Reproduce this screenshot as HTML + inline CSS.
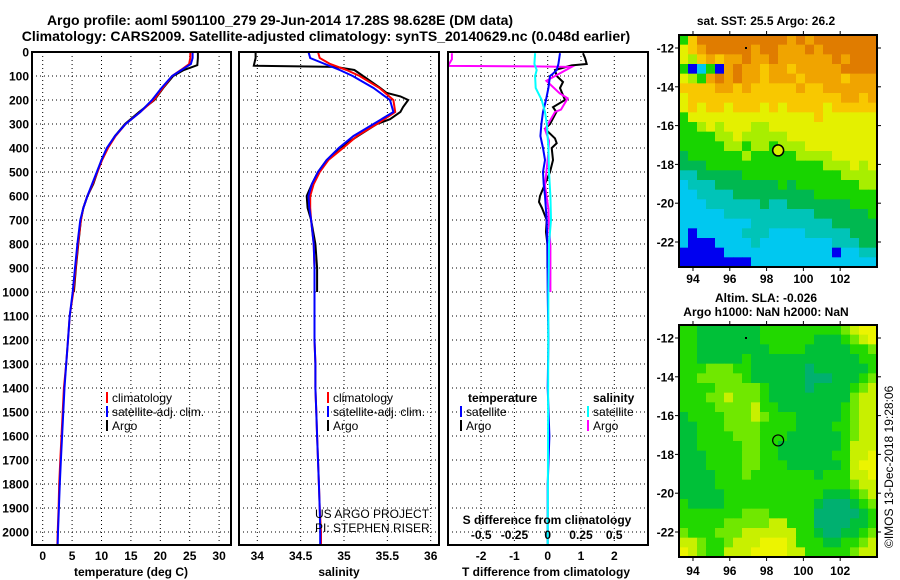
<!DOCTYPE html>
<html><head><meta charset="utf-8"><style>
html,body{margin:0;padding:0;background:#fff;}
svg{display:block;font-family:"Liberation Sans",Arial,sans-serif;}
.b{font-weight:bold;font-size:12px;}
.t{font-weight:bold;font-size:14px;}
.l{font-size:12px;}
</style></head><body>
<svg id="fig" width="900" height="580" viewBox="0 0 900 580" xmlns="http://www.w3.org/2000/svg">
<defs>
<clipPath id="c1"><rect x="32" y="52" width="199" height="493"/></clipPath>
<clipPath id="c2"><rect x="239" y="52" width="200" height="493"/></clipPath>
<clipPath id="c3"><rect x="448" y="52" width="200" height="493"/></clipPath>
</defs>
<text class="t" x="280" y="25" text-anchor="middle">Argo profile: aoml 5901100_279 29-Jun-2014 17.28S 98.628E (DM data)</text>
<text class="t" x="326" y="41" text-anchor="middle">Climatology: CARS2009. Satellite-adjusted climatology: synTS_20140629.nc (0.048d earlier)</text>
<g id="grids"></g>
<g id="series"></g>
<g id="frames"></g>
<g id="maps"></g>
<g id="labels"></g>
</svg>
<script>
// ---------- profile data ----------
const climDepth = [0,25,50,75,100,150,200,250,300,350,400,450,500,550,600,650,700,800,900,1000,1100,1200,1300,1400,1500,1600,1700,1800,1900,2000,2050];
const tempClim = [25.1,25.1,24.9,23.5,22.0,20.4,18.9,16.6,14.1,12.4,11.1,10.1,9.3,8.5,7.6,6.9,6.5,6.0,5.6,5.2,4.6,4.3,4.0,3.6,3.4,3.2,3.0,2.8,2.7,2.55,2.5];
const tempSat  = [25.5,25.5,25.2,23.6,22.0,20.2,18.6,16.6,14.1,12.3,10.9,10.0,9.2,8.4,7.6,6.9,6.4,5.9,5.5,5.1,4.6,4.3,4.0,3.7,3.5,3.3,3.1,2.9,2.75,2.6,2.55];
const argoDepth = [0,25,55,75,100,150,200,250,300,350,400,450,500,550,600,650,700,800,900,1000];
const tempArgo  = [26.4,26.4,26.3,24.0,22.2,20.5,19.0,16.4,14.0,12.3,11.0,10.0,9.3,8.6,7.6,6.9,6.5,6.05,5.65,5.3];
const salClim = [34.70,34.72,34.84,35.03,35.18,35.41,35.57,35.59,35.38,35.15,34.99,34.82,34.72,34.65,34.61,34.61,34.62,34.65,34.66,34.66,34.66,34.66,34.67,34.67,34.68,34.69,34.70,34.71,34.72,34.735,34.735];
const salSat  = [34.59,34.61,34.78,34.95,35.10,35.34,35.53,35.57,35.34,35.11,34.94,34.80,34.70,34.63,34.59,34.60,34.62,34.65,34.66,34.66,34.66,34.66,34.67,34.67,34.68,34.69,34.70,34.71,34.72,34.725,34.725];
const salArgoDepth = [0,25,57,62,75,100,150,170,185,200,230,250,280,300,350,400,450,500,550,600,650,700,800,900,1000];
const salArgo = [33.98,33.98,33.96,34.90,35.12,35.22,35.42,35.49,35.65,35.74,35.68,35.65,35.53,35.38,35.16,34.95,34.80,34.70,34.63,34.57,34.58,34.62,34.67,34.69,34.69];
// difference panel
const dtArgoDepth = [5,25,50,56,75,100,125,150,200,230,250,300,320,360,380,400,450,500,550,600,625,650,700,750,800,850,900];
const dtArgo = [1.06,1.12,1.17,0.72,0.22,0.27,0.46,0.37,0.52,0.16,0.26,0.07,-0.08,0.22,0.27,0.12,0.16,0.07,-0.08,-0.23,-0.26,-0.17,-0.03,-0.05,-0.01,-0.01,-0.01];
const dtSatDepth = [5,50,75,90,100,150,200,250,300,350,400,450,500,550,600,700,800,1000,1200,1400,1600,1800,2000,2050];
const dtSat = [0.37,0.32,0.27,0.16,0.07,0.02,-0.05,-0.14,-0.19,-0.22,-0.14,-0.08,-0.14,-0.12,-0.08,-0.03,-0.01,0.0,0.02,0.0,0.05,0.0,0.0,0.0];
const dsSatDepth = [5,50,75,100,150,200,250,300,400,500,600,700,800,900,1000,1500,2050];
const dsSat = [-0.095,-0.10,-0.083,-0.095,-0.09,-0.045,-0.02,-0.007,0.005,0.01,0.02,0.025,0.01,0.008,0.005,0.003,0.0];
const dsArgoDepth = [5,30,58,60,62,120,172,193,240,250,322,370,418,556,653,722,806,972,1000];
const dsArgo = [-0.72,-0.72,-0.75,-0.1,0.18,-0.01,0.09,0.15,0.10,0.055,-0.02,0.01,0.005,-0.02,0.005,0.01,0.02,0.02,0.02];
// axis ticks
const depthTicks = [0,100,200,300,400,500,600,700,800,900,1000,1100,1200,1300,1400,1500,1600,1700,1800,1900,2000];
const tempTicks = [0,5,10,15,20,25,30];
const salTicks = [34,34.5,35,35.5,36];
const salTickLabels = ["34","34.5","35","35.5","36"];
const dtTicks = [-2,-1,0,1,2];
const dsTicks = [-0.5,-0.25,0,0.25,0.5];
const dsTickLabels = ["-0.5","-0.25","0","0.25","0.5"];
const lonTicks = [94,96,98,100,102];
const latTicks = [-12,-14,-16,-18,-20,-22];
const argoLon = 98.628, argoLat = -17.28;
// map grids (codes -> colours), rows north to south
const sstRows = [
"GYOOOOOOOOOOoOoOOOOOOO","yYoOOOOOoOOoooOoOOOOOO","yLYoYooOooOooooooOoOOO","GBcGBoOooYooYoooooOOOO",
"yLGoOoOooYoooYooooYooo","YYYYooYoYYYYYoYYoooooo","yYYYYYYYYYYYYYYYYYooYo","yYyYYyYYYyYyYYYYyYYYYY",
"GyyyyyyyyyyyyyyYyyyyyy","GGLyLyyyLLyyyyyyyyyyyy","GGGGLLyLLLLLyyyyyyyyyy","GGGGGLLGLLGLLLyyyyyyyy",
"gGGGGGGLGGGGGLLLLyyyyy","gggGGGGGGGGGGGGGLLLyLy","CCgggggGGGGGGGGGGGLLLL","cCCCgggggggGgGGGGGGGLL",
"ccCCCCgggggggggGGGGGGG","cccCCCCCCgCCgggggggGGG","cccccCCCCCCCCCCggggggG","ccccccccCCCCCCCCCggggg",
"cBcccccCCCccccCCCCCggg","cBBBccccCccccccccCCCgg","BBBBBccccccccccccBccCC","BBBBBBBBcccccccccccccc"];
const sstColors = {O:"#e07c00",o:"#f0a400",Y:"#f8c800",y:"#e4f000",L:"#a8ee00",G:"#18d400",g:"#00b850",C:"#00c4b8",c:"#00c8f0",B:"#0000f0"};
const slaRows = [
"GGdddddddGGGGGGGGGlyYY","GGdddddddGGGGGGdddGlyY","GGddddddddGGGGdddddGGl","GGdddddGddddddddddddGG",
"GGGlllGGddddddtddddddG","GGlllllGddddddtttdddGl","GGGGlllllGddddtddddGly","GGGllylllGdddddddddlyy",
"GGGGllllyGGdddddddGlyy","dGGGGlllylGGGdddddGlyy","ddGGGllllGGGGddddGGlyy","ddGGGGlllGGGddddddGlyy",
"ddGGGGGllGGdddddddGyyy","dddGGGGllGGddddddGGyyY","dddGGGGllGGGddddddGyYY","ddddGGGlGGGGGGGdGGGyyY",
"ddddGGGGGGGGGGGGGGGlyy","dddddGGGGGGGGGGGdddGly","GddddGGGGGGGGGGdtttdGl","GGGGGGGlllGGGGGtttttdG",
"GGGGGlllllyyGGGttttddG","lGGGlllyyyyyyGGdttddGl","yylGGlyyyYYYyGGGddGGly","YylGGyyyYYYYyyGGGGGlyy"];
const slaColors = {G:"#22d800",d:"#00c038",t:"#00b070",l:"#70e800",y:"#c8f000",Y:"#ecf400"};

// ---------- scales ----------
const yD = d => 52 + d*0.24;
const xT = t => 42.7 + t*5.88;
const xS = s => 257.3 + (s-34)*86.7;
const xDT = v => 547.7 + v*33.3;
const xDS = v => 547.7 + v*133;
const MAPX0 = 679, MAPW = 198, LON0 = 93.24, LONPX = 18.4;
const xLon = lo => MAPX0 + (lo-LON0)*LONPX;
const yLatTop = la => 48 + (-12-la)*19.4;
const yLatBot = la => 338 + (-12-la)*19.4;

const NS = "http://www.w3.org/2000/svg";
function mk(tag, attrs, parent, txt){
  const e = document.createElementNS(NS, tag);
  for (const k in attrs) e.setAttribute(k, attrs[k]);
  if (txt !== undefined) e.textContent = txt;
  parent.appendChild(e);
  return e;
}
const G = id => document.getElementById(id);
const grids = G("grids"), series = G("series"), frames = G("frames"), maps = G("maps"), labels = G("labels");
const panels = [[32,231],[239,439],[448,648]];
const dot = {stroke:"#000","stroke-width":1,"stroke-dasharray":"1 3"};

panels.forEach((p,pi) => {
  depthTicks.forEach(d => {
    if (d === 0) return;
    const ln = mk("line", Object.assign({x1:p[0],x2:p[1],y1:yD(d),y2:yD(d)}, dot), grids);
    
    
  });
});
function vgrid(vals, fx){
  vals.forEach(v => {
    const ln = mk("line", Object.assign({x1:fx(v),x2:fx(v),y1:52,y2:545}, dot), grids);
    
    
  });
}
vgrid(tempTicks, xT); vgrid(salTicks, xS); vgrid(dtTicks, xDT);

function line(depths, vals, fx, color, clip, name){
  const pts = depths.map((d,i) => fx(vals[i]).toFixed(1)+","+yD(d).toFixed(1)).join(" ");
  const pl = mk("polyline", {points:pts, fill:"none", stroke:color, "stroke-width":2, "clip-path":"url(#"+clip+")"}, series);
  
  
}
line(argoDepth, tempArgo, xT, "#000", "c1", "temp-argo-line");
line(climDepth, tempClim, xT, "#f00", "c1", "temp-climatology-line");
line(climDepth, tempSat, xT, "#00f", "c1", "temp-satellite-line");
line(salArgoDepth, salArgo, xS, "#000", "c2", "salinity-argo-line");
line(climDepth, salClim, xS, "#f00", "c2", "salinity-climatology-line");
line(climDepth, salSat, xS, "#00f", "c2", "salinity-satellite-line");
line(dtArgoDepth, dtArgo, xDT, "#000", "c3", "tdiff-argo-line");
line(dsArgoDepth, dsArgo, xDS, "#f0f", "c3", "sdiff-argo-line");
line(dtSatDepth, dtSat, xDT, "#00f", "c3", "tdiff-satellite-line");
line(dsSatDepth, dsSat, xDS, "#0ff", "c3", "sdiff-satellite-line");

panels.forEach((p,i) => {
  const r = mk("rect", {x:p[0], y:52, width:p[1]-p[0], height:493, fill:"none", stroke:"#000", "stroke-width":2}, frames);
  
  
});

depthTicks.forEach(d => {
  const t = mk("text", {x:29, y:yD(d)+4.5, "text-anchor":"end", class:"b"}, labels, String(d));
  
  
});
tempTicks.forEach(v => {
  const t = mk("text", {x:xT(v), y:560, "text-anchor":"middle", class:"b"}, labels, String(v));
  
  
});
salTicks.forEach((v,i) => {
  const t = mk("text", {x:xS(v), y:560, "text-anchor":"middle", class:"b"}, labels, salTickLabels[i]);
  
  
});
dtTicks.forEach(v => {
  const t = mk("text", {x:xDT(v), y:560, "text-anchor":"middle", class:"b"}, labels, String(v));
  
  
});
dsTicks.forEach((v,i) => {
  const t = mk("text", {x:xDS(v), y:539, "text-anchor":"middle", class:"b"}, labels, dsTickLabels[i]);
  
  
});
[["temperature (deg C)",131,"temp-axis-title"],["salinity",339,"salinity-axis-title"],["T difference from climatology",546,"tdiff-axis-title"]].forEach(a => {
  const t = mk("text", {x:a[1], y:576, "text-anchor":"middle", class:"b"}, labels, a[0]);
  
  
});
const sdt = mk("text", {x:547, y:524, "text-anchor":"middle", class:"b"}, labels, "S difference from climatology");



function legend(x, y, color, txt, name){
  const g = mk("g", {}, labels);
  
  
  mk("line", {x1:x, x2:x, y1:y-10, y2:y+1, stroke:color, "stroke-width":2}, g);
  mk("text", {x:x+5, y:y, class:"l"}, g, txt);
}
legend(107, 402, "#f00", "climatology", "legend-temp-climatology");
legend(107, 416, "#00f", "satellite-adj. clim.", "legend-temp-satellite");
legend(107, 430, "#000", "Argo", "legend-temp-argo");
legend(328, 402, "#f00", "climatology", "legend-sal-climatology");
legend(328, 416, "#00f", "satellite-adj. clim.", "legend-sal-satellite");
legend(328, 430, "#000", "Argo", "legend-sal-argo");
const lt1 = mk("text", {x:468, y:402, class:"b"}, labels, "temperature");


const lt2 = mk("text", {x:593, y:402, class:"b"}, labels, "salinity");


legend(461, 416, "#00f", "satellite", "legend-tdiff-satellite");
legend(461, 430, "#000", "Argo", "legend-tdiff-argo");
legend(588, 416, "#0ff", "satellite", "legend-sdiff-satellite");
legend(588, 430, "#f0f", "Argo", "legend-sdiff-argo");
const pi1 = mk("text", {x:315, y:518, class:"l", "clip-path":"url(#c2)"}, labels, "US ARGO PROJECT");


const pi2 = mk("text", {x:315, y:532, class:"l", "clip-path":"url(#c2)"}, labels, "PI: STEPHEN RISER");



function drawMap(rows, colors, y0, h, name, yLat){
  const g = mk("g", {}, maps);
  
  
  const nr = rows.length, nc = rows[0].length;
  const cw = MAPW/nc, ch = h/nr;
  rows.forEach((row, r) => {
    for (let c=0; c<nc; c++){
      const cell = mk("rect", {x:(MAPX0+c*cw).toFixed(2), y:(y0+r*ch).toFixed(2), width:(cw+0.4).toFixed(2), height:(ch+0.4).toFixed(2), fill:colors[row[c]]}, g);
      
      
    }
  });
  const fr = mk("rect", {x:MAPX0, y:y0, width:MAPW, height:h, fill:"none", stroke:"#000", "stroke-width":2}, g);
  
  
  lonTicks.forEach(lo => {
    mk("line", {x1:xLon(lo), x2:xLon(lo), y1:y0-4, y2:y0, stroke:"#000"}, g);
    mk("line", {x1:xLon(lo), x2:xLon(lo), y1:y0+h, y2:y0+h+4, stroke:"#000"}, g);
  });
  latTicks.forEach(la => {
    mk("line", {x1:MAPX0-4, x2:MAPX0, y1:yLat(la), y2:yLat(la), stroke:"#000"}, g);
    mk("line", {x1:MAPX0+MAPW, x2:MAPX0+MAPW+4, y1:yLat(la), y2:yLat(la), stroke:"#000"}, g);
    const t = mk("text", {x:674, y:yLat(la)+4.5, "text-anchor":"end", class:"b"}, g, String(la));
    
    
  });
  mk("rect", {x:745, y:yLat(-12)-1, width:2, height:2, fill:"#000"}, g);
  return g;
}
const m1 = drawMap(sstRows, sstColors, 35, 232, "sst-map", yLatTop);
const m2 = drawMap(slaRows, slaColors, 325, 232, "sla-map", yLatBot);
lonTicks.forEach(lo => {
  const t = mk("text", {x:xLon(lo), y:283, "text-anchor":"middle", class:"b"}, maps, String(lo));
  
  
  const t2 = mk("text", {x:xLon(lo), y:575, "text-anchor":"middle", class:"b"}, maps, String(lo));
  
  
});
const mk1 = mk("circle", {cx:xLon(argoLon), cy:yLatTop(argoLat), r:5.5, fill:"#d8f000", stroke:"#000", "stroke-width":1.5}, maps);


const mk2 = mk("circle", {cx:xLon(argoLon), cy:yLatBot(argoLat), r:5.5, fill:"none", stroke:"#000", "stroke-width":1.2}, maps);


[["sat. SST: 25.5 Argo: 26.2",766,25,"sst-map-title"],["Altim. SLA: -0.026",766,302,"sla-map-title"],["Argo h1000: NaN h2000: NaN",766,316,"sla-map-subtitle"]].forEach(a => {
  const t = mk("text", {x:a[1], y:a[2], "text-anchor":"middle", class:"b"}, maps, a[0]);
  
  
});
const cr = mk("text", {x:0, y:0, class:"l", transform:"translate(893,548) rotate(-90)"}, maps, "\u00A9IMOS 13-Dec-2018 19:28:06");


</script>
</body></html>
